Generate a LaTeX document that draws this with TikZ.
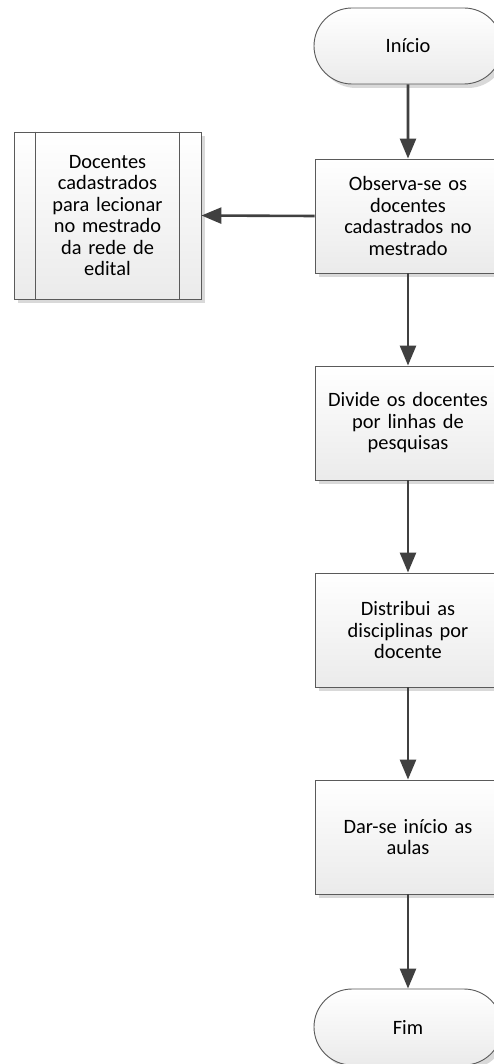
\documentclass[tikz,border=0pt]{standalone}
\usepackage{fontspec}
\setmainfont{Carlito}
\usetikzlibrary{arrows.meta,shapes.misc,shadows}
\definecolor{edge}{HTML}{5A5A5A}
\definecolor{flow}{HTML}{404040}
\definecolor{shade}{HTML}{D9D9D9}
\tikzset{
  x=1pt, y=-1pt,
  basebox/.style={draw=edge, line width=0.9pt, top color=white, bottom color=black!8,
    general shadow={fill=shade, shadow xshift=4pt, shadow yshift=-4pt},
    font=\fontsize{20.4}{21.5}\selectfont, align=center, inner sep=0pt},
  procbox/.style={basebox, minimum width=186pt, minimum height=114pt, text width=178pt},
  termbox/.style={basebox, rounded rectangle, minimum width=188pt, minimum height=76pt},
  predbox/.style={basebox, minimum width=187pt, minimum height=167pt, text width=142pt},
  flowarrow/.style={draw=flow, line width=2.6pt, -{Triangle[width=16pt,length=20pt]}}
}
\begin{document}
\begin{tikzpicture}
\useasboundingbox (0,0) rectangle (494,1064);
\clip (0,0) rectangle (494,1064);
\fill[white] (0,0) rectangle (494,1064);

% main flow down the right-hand column
\node[termbox] (ini) at (408,46) {Início};
\node[procbox] (obs) at (408,216) {Observa-se os\\docentes\\cadastrados no\\mestrado};
\node[procbox] (div) at (408,423) {Divide os docentes\\por linhas de\\pesquisas};
\node[procbox] (dis) at (408,630) {Distribui as\\disciplinas por\\docente};
\node[procbox] (dar) at (408,837) {Dar-se início as\\aulas};
\node[termbox] (fim) at (408,1027) {Fim};

% predefined process on the left, with its two inner bars
\node[predbox] (doc) at (107.5,215.5) {Docentes\\cadastrados\\para lecionar\\no mestrado\\da rede de\\edital};
\draw[edge, line width=0.9pt] ([xshift=22pt]doc.north west) -- ([xshift=22pt]doc.south west);
\draw[edge, line width=0.9pt] ([xshift=-22pt]doc.north east) -- ([xshift=-22pt]doc.south east);

\draw[flowarrow] (ini) -- (obs);
\draw[flowarrow] (obs) -- (div);
\draw[flowarrow] (div) -- (dis);
\draw[flowarrow] (dis) -- (dar);
\draw[flowarrow] (dar) -- (fim);
\draw[flowarrow] (obs.west) -- (doc.east);
\end{tikzpicture}
\end{document}
